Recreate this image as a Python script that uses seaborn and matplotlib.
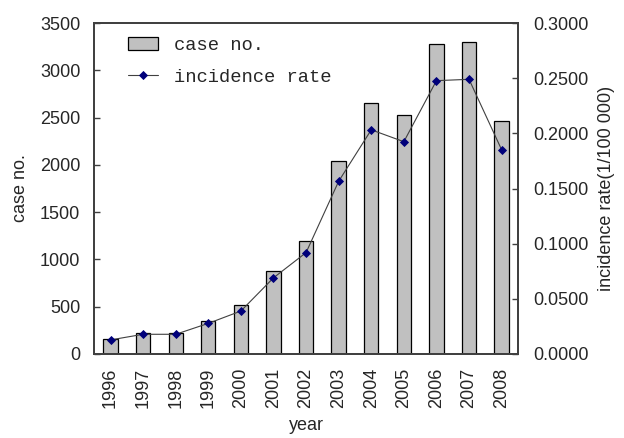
import numpy as np
import pandas as pd
import seaborn as sns
import matplotlib.pyplot as plt
from matplotlib.ticker import FixedLocator, FormatStrFormatter

years = ['1996', '1997', '1998', '1999', '2000', '2001', '2002',
         '2003', '2004', '2005', '2006', '2007', '2008']
case_no = [158, 222, 222, 349, 514, 880, 1190, 2039, 2655, 2525, 3275, 3303, 2465]
incidence_rate = [0.0127, 0.0178, 0.0178, 0.0277, 0.0389, 0.0690, 0.0919,
                  0.1566, 0.2033, 0.1925, 0.2479, 0.2491, 0.1852]

df = pd.DataFrame({'year': years, 'case no.': case_no, 'incidence rate': incidence_rate})

sns.set_style('white')
plt.rcParams['font.family'] = ['Liberation Sans', 'DejaVu Sans']
fs = 13

fig = plt.figure(figsize=(6.24, 4.38), dpi=100)
ax = fig.add_axes([0.151, 0.192, 0.679, 0.755])

sns.barplot(data=df, x='year', y='case no.', color='#c0c0c0', width=0.44,
            edgecolor='black', linewidth=0.9, saturation=1, ax=ax)

ax2 = ax.twinx()
sns.pointplot(data=df, x='year', y='incidence rate', color='#404040',
              markers='D', markersize=4, linewidth=0.8, ax=ax2)
for ln in ax2.lines:
    ln.set_markerfacecolor('#00007a')
    ln.set_markeredgecolor('#00007a')

ax.set_xlim(-0.5, len(years) - 0.5)
ax.set_ylim(0, 3500)
ax.set_yticks(np.arange(0, 3501, 500))
ax2.set_ylim(0, 0.3)
ax2.set_yticks(np.arange(0, 0.3001, 0.05))
ax2.yaxis.set_major_formatter(FormatStrFormatter('%.4f'))

ax.set_xlabel('year', fontsize=fs, labelpad=6)
ax.set_ylabel('case no.', fontsize=fs, labelpad=8)
ax2.set_ylabel('incidence rate(1/100 000)', fontsize=fs, labelpad=7)

ax.tick_params(axis='x', which='major', length=0, labelsize=fs, rotation=90, pad=10)
ax.xaxis.set_minor_locator(FixedLocator(np.arange(0.5, len(years) - 1, 1)))
ax.tick_params(axis='x', which='minor', direction='in', length=4, width=1, color='#404040')
ax.tick_params(axis='y', direction='in', length=4, width=1, labelsize=fs, color='#404040', pad=10)
ax2.tick_params(axis='y', direction='in', length=4, width=1, labelsize=fs, color='#404040', pad=11)

for a in (ax, ax2):
    for s in a.spines.values():
        s.set_visible(True)
        s.set_color('#404040')
        s.set_linewidth(1.3)

ax2.legend([ax.patches[0], ax2.lines[0]], ['case no.', 'incidence rate'],
           loc='upper left', bbox_to_anchor=(0.063, 0.98), borderaxespad=0,
           frameon=False, prop={'family': 'Liberation Mono', 'size': 13.5},
           handlelength=1.6, handletextpad=0.85, labelspacing=0.75)

fig.savefig('out.png', dpi=100)
